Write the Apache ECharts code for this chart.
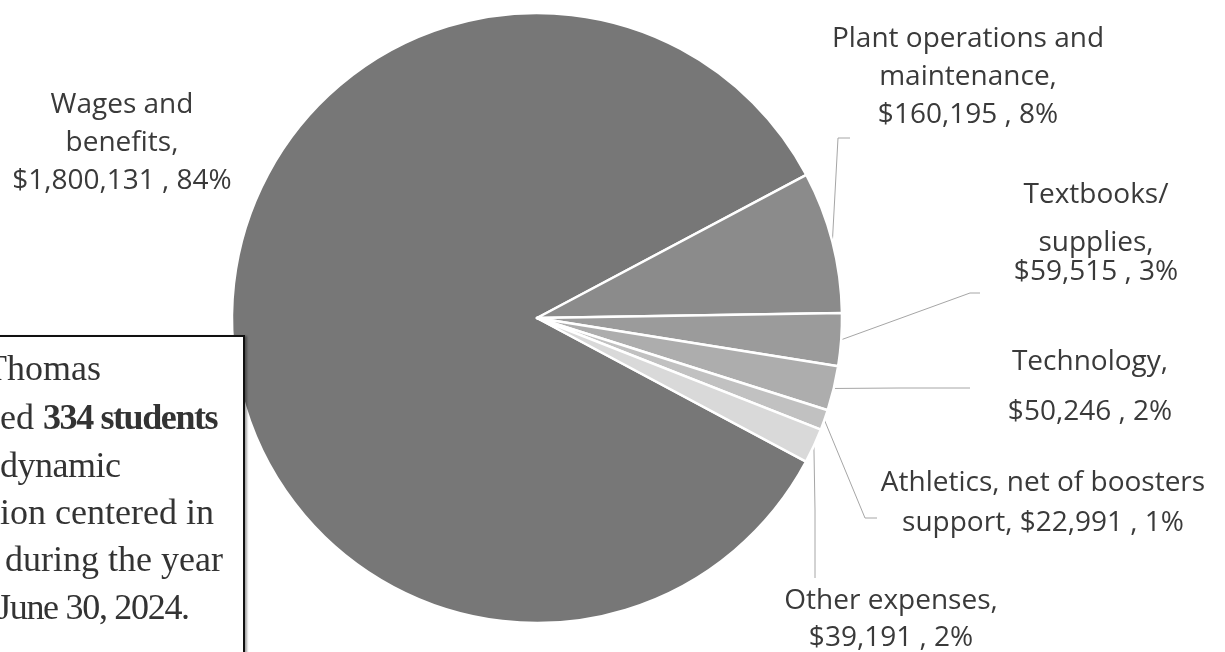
<!DOCTYPE html>
<html>
<head>
<meta charset="utf-8">
<script src="https://cdn.jsdelivr.net/npm/echarts@6/dist/echarts.min.js"></script>
<style>
  html, body { margin:0; padding:0; background:#fff; overflow:hidden; }
  #chart { position:absolute; left:0; top:0; width:1225px; height:652px; }
  #box { position:absolute; left:-20px; top:335px; width:261px; height:340px; background:#fff;
         border:2px solid #111; box-shadow:2px 1px 2px rgba(0,0,0,0.35); overflow:hidden; z-index:5; }
  #box div { position:absolute; white-space:nowrap; font-family:"Liberation Serif", serif; font-size:36px; color:#333; }
  #box b { font-weight:bold; letter-spacing:-1.4px; }
</style>
</head>
<body>
<div id="chart"></div>
<div id="box">
  <div style="left:3px; top:10px;">Thomas</div>
  <div style="left:18px; top:59px;">ed <b>334 students</b></div>
  <div style="left:18px; top:107px; letter-spacing:-0.5px;">dynamic</div>
  <div style="left:18px; top:154px;">ion centered in</div>
  <div style="left:23px; top:201px;">during the year</div>
  <div style="left:15px; top:249px; letter-spacing:-1.3px;">June 30, 2024.</div>
</div>
<script>
// ---- data ----
const categories = ['Wages and\nbenefits', 'Plant operations and\nmaintenance', 'Textbooks/\nsupplies', 'Technology', 'Athletics, net of boosters\nsupport', 'Other expenses'];
const values = [1800131, 160195, 59515, 50246, 22991, 39191];
const sliceColors = ['#777777', '#8b8b8b', '#9b9b9b', '#adadad', '#c1c1c1', '#d9d9d9'];

// ---- label layout (positions only) ----
const nameSep = [',\n', ',\n', ',\n', ',\n', ', ', ',\n'];
const lineHeights = [[38,38,38],[38,38,38],[66,30,28],[50,50],[40,40],[37,37]];
const labelPos = [
  {x:122, y:143, line:null},
  {x:968, y:77,  line:[[838,138],[850,138]]},
  {x:1096, y:224, line:[[970,293],[980,293]]},
  {x:1090, y:387, line:[[900,388],[970,388]]},
  {x:1043, y:503, line:[[865,518],[877,518]]},
  {x:891, y:620, line:[[815,510],[815,578]]}
];

const font = 'Open Sans';
const fsz = 28;
const rich = {};
[28,30,37,38,40,50,66].forEach(h => {
  rich['h' + h] = { fontFamily: font, fontSize: fsz, color: '#3a3a3a', lineHeight: h, align: 'center' };
});

const chart = echarts.init(document.getElementById('chart'), null, {renderer:'canvas'});
chart.setOption({
  animation: false,
  backgroundColor: '#ffffff',
  series: [{
    type: 'pie',
    center: [537, 318],
    radius: 305,
    startAngle: -28.1,
    clockwise: true,
    avoidLabelOverlap: false,
    itemStyle: { borderColor: '#ffffff', borderWidth: 2.5 },
    label: {
      show: true,
      position: 'outside',
      fontFamily: font,
      fontSize: fsz,
      color: '#3a3a3a',
      align: 'center',
      rich: rich,
      formatter: function (p) {
        const i = p.dataIndex;
        const txt = p.name + nameSep[i] + '$' + p.value.toLocaleString('en-US') + ' , ' + Math.round(p.percent) + '%';
        return txt.split('\n').map((s, k) => '{h' + lineHeights[i][k] + '|' + s + '}').join('\n');
      }
    },
    labelLine: { show: true, lineStyle: { color: '#a6a6a6', width: 1 } },
    labelLayout: function (params) {
      const L = labelPos[params.dataIndex];
      const out = { x: L.x, y: L.y, align: 'center', verticalAlign: 'middle' };
      if (L.line && params.labelLinePoints) {
        out.labelLinePoints = [params.labelLinePoints[0], L.line[0], L.line[1]];
      }
      return out;
    },
    data: categories.map((c, i) => ({
      name: c,
      value: values[i],
      itemStyle: { color: sliceColors[i] },
      labelLine: { show: i !== 0 }
    }))
  }]
});
</script>
</body>
</html>
